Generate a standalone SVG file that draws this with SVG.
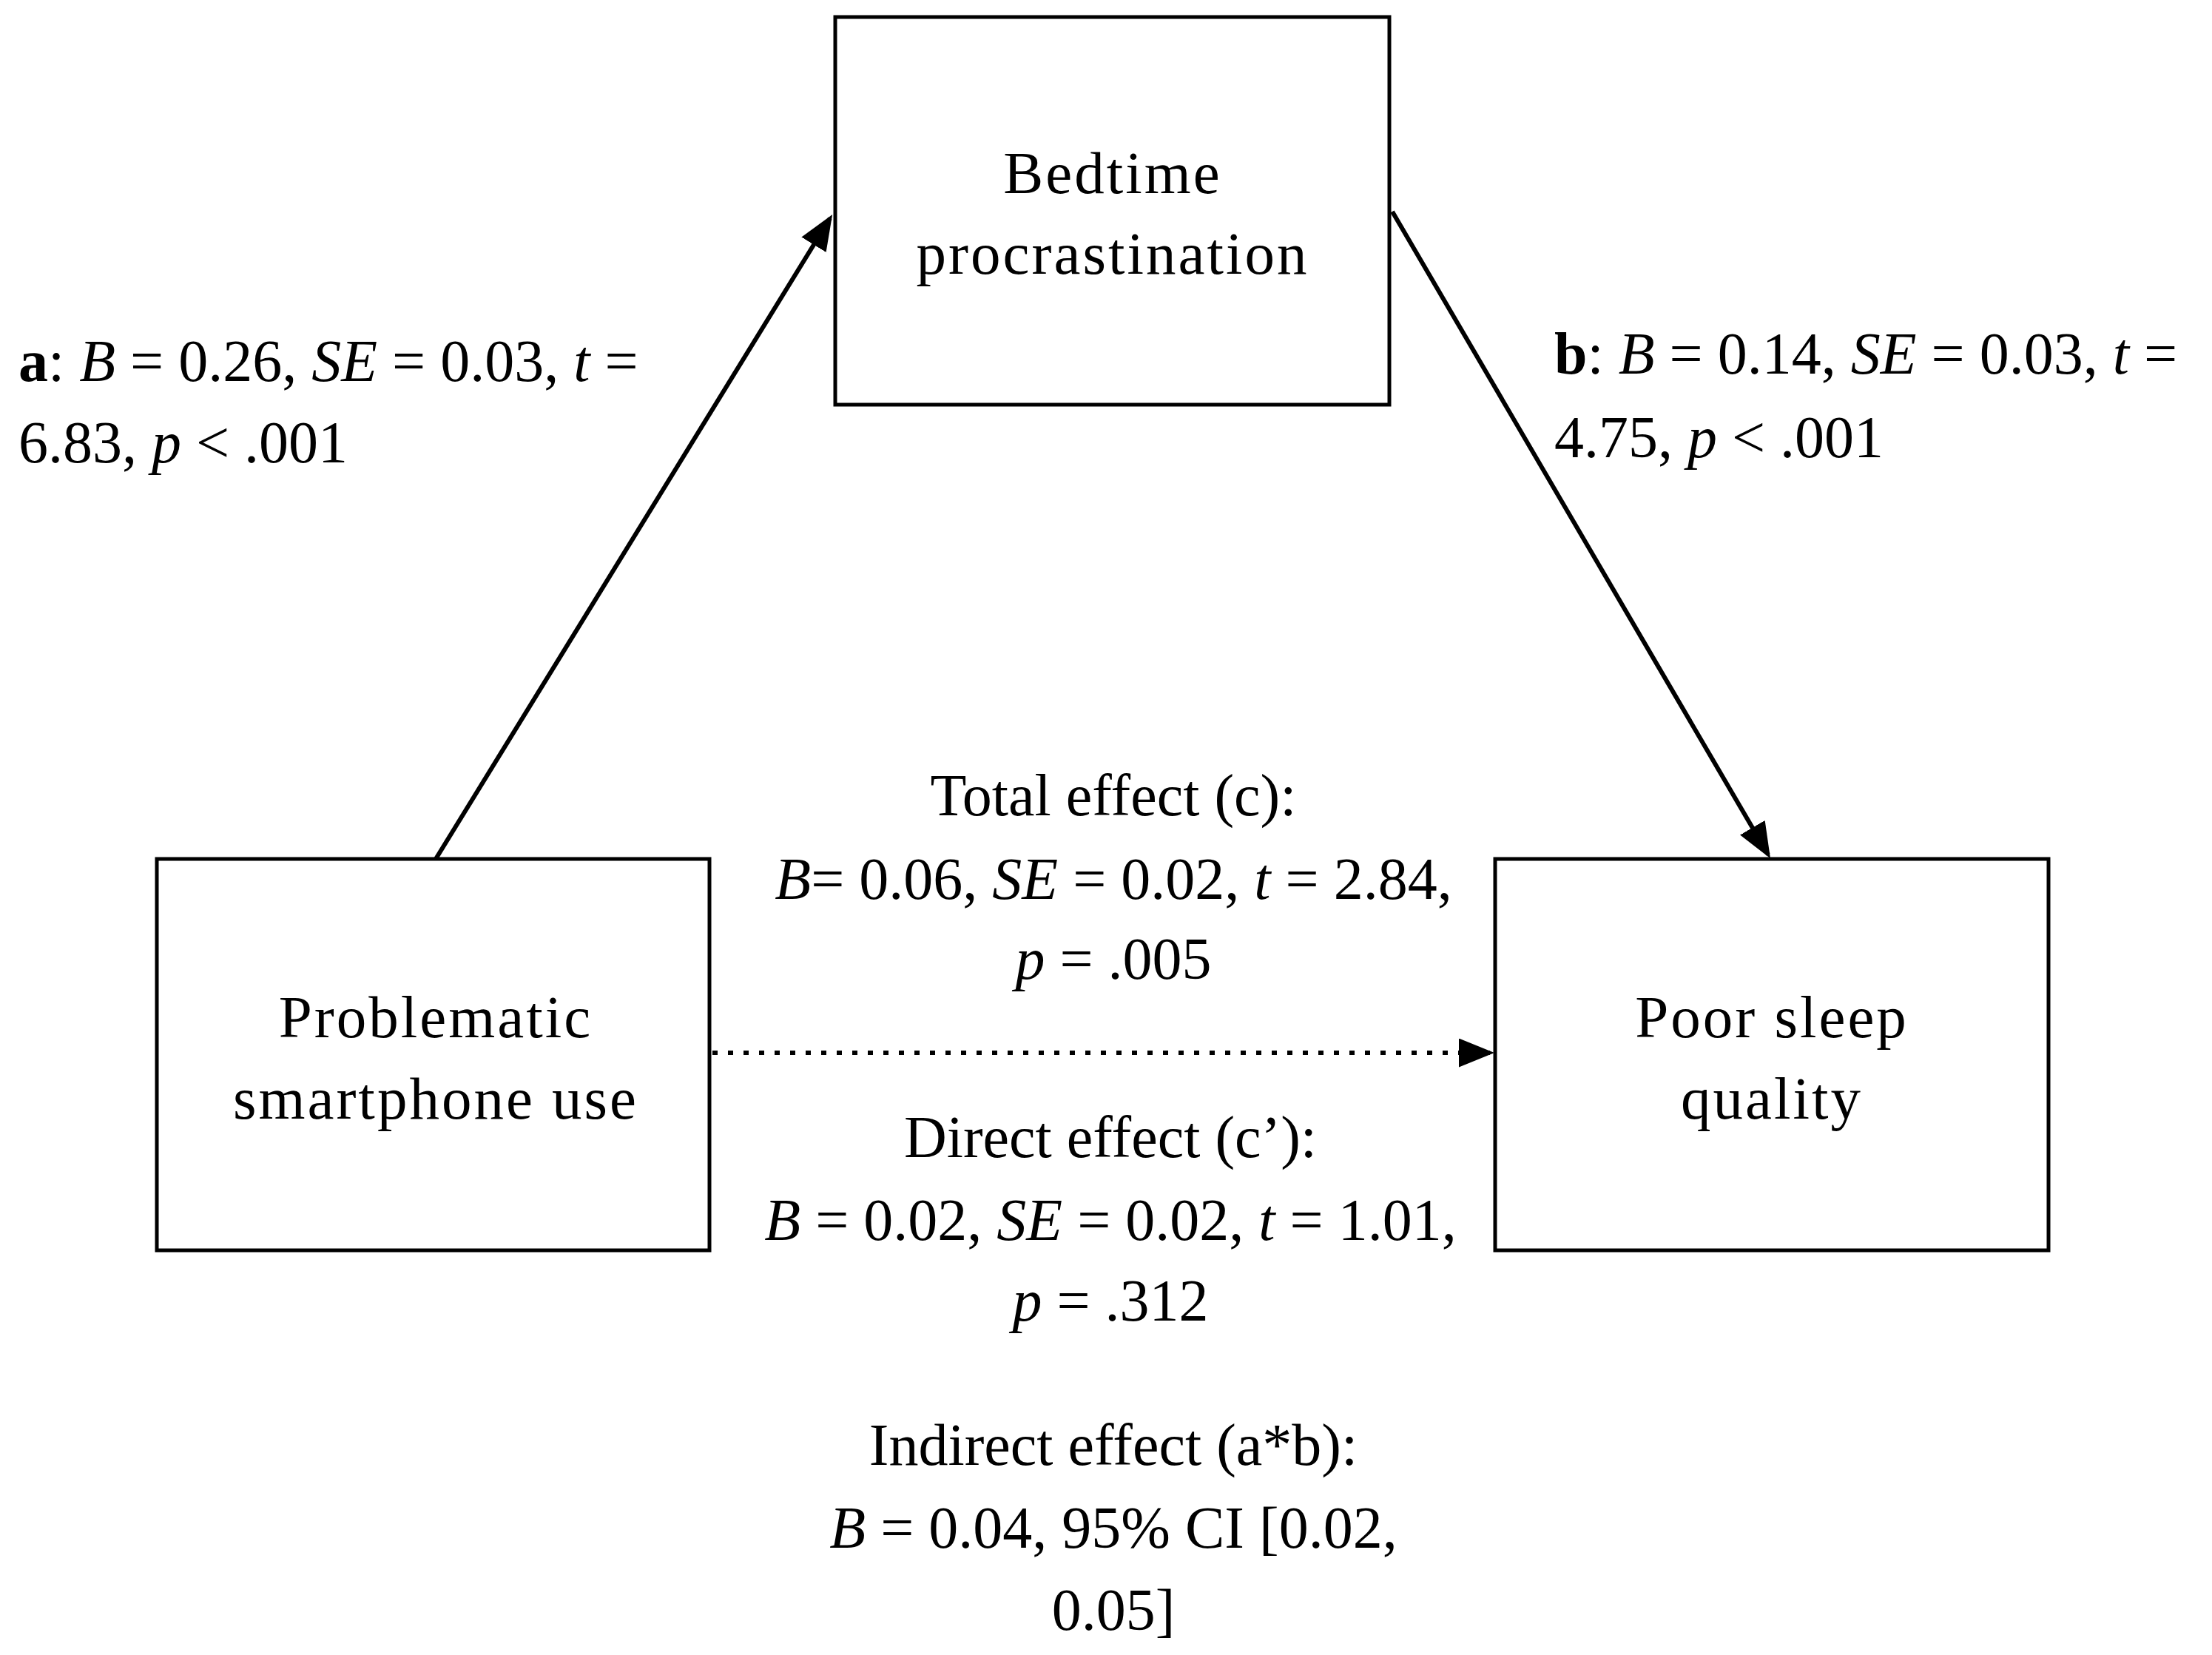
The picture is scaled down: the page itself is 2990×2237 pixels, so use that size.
<svg xmlns="http://www.w3.org/2000/svg" width="2990" height="2237" viewBox="0 0 2990 2237">
<style>
.box{fill:#fff;stroke:#000;stroke-width:5}
text{font-family:"Liberation Serif","DejaVu Serif",serif;font-size:80px;fill:#000}
.n{letter-spacing:3px;font-size:81px}
.c{text-anchor:middle}
.ln{stroke:#000;stroke-width:6;fill:none}
</style>
<defs><marker id="ah" markerWidth="8" markerHeight="6.5" refX="7" refY="3.25" orient="auto" markerUnits="strokeWidth"><path d="M0,0L8,3.25L0,6.5z" fill="#000"/></marker></defs>
<rect width="2990" height="2237" fill="#fff"/>
<g id="connectors">
<line class="ln" x1="589" y1="1161" x2="1122" y2="295" marker-end="url(#ah)"/>
<line class="ln" x1="1882" y1="286" x2="2390" y2="1155" marker-end="url(#ah)"/>
<line class="ln" x1="963" y1="1423" x2="2014" y2="1423" stroke-dasharray="7 14" marker-end="url(#ah)"/>
</g>
<g id="bedtime"><rect class="box" x="1129" y="23" width="749" height="524"/>
<text class="c n" x="1504" y="261">Bedtime</text><text class="c n" x="1504" y="370">procrastination</text></g>
<g id="problematic"><rect class="box" x="212" y="1161" width="747" height="529"/>
<text class="c n" x="589" y="1402">Problematic</text><text class="c n" x="589" y="1512">smartphone use</text></g>
<g id="poor"><rect class="box" x="2021" y="1161" width="748" height="529"/>
<text class="c n" x="2395" y="1402">Poor sleep</text><text class="c n" x="2395" y="1512">quality</text></g>
<g id="labels">
<text x="25" y="515"><tspan font-weight="bold">a</tspan>: <tspan font-style="italic">B</tspan> = 0.26, <tspan font-style="italic">SE</tspan> = 0.03, <tspan font-style="italic">t</tspan> =</text>
<text x="25" y="625">6.83, <tspan font-style="italic">p</tspan> &lt; .001</text>
<text x="2101" y="505"><tspan font-weight="bold">b</tspan>: <tspan font-style="italic">B</tspan> = 0.14, <tspan font-style="italic">SE</tspan> = 0.03, <tspan font-style="italic">t</tspan> =</text>
<text x="2101" y="618">4.75, <tspan font-style="italic">p</tspan> &lt; .001</text>
<text class="c" x="1505" y="1102">Total effect (c):</text>
<text class="c" x="1505" y="1215"><tspan font-style="italic">B</tspan>= 0.06, <tspan font-style="italic">SE</tspan> = 0.02, <tspan font-style="italic">t</tspan> = 2.84,</text>
<text class="c" x="1505" y="1323"><tspan font-style="italic">p</tspan> = .005</text>
<text class="c" x="1501" y="1564">Direct effect (c’):</text>
<text class="c" x="1501" y="1676"><tspan font-style="italic">B</tspan> = 0.02, <tspan font-style="italic">SE</tspan> = 0.02, <tspan font-style="italic">t</tspan> = 1.01,</text>
<text class="c" x="1501" y="1785"><tspan font-style="italic">p</tspan> = .312</text>
<text class="c" x="1505" y="1980">Indirect effect (a*b):</text>
<text class="c" x="1505" y="2092"><tspan font-style="italic">B</tspan> = 0.04, 95% CI [0.02,</text>
<text class="c" x="1505" y="2203">0.05]</text>
</g>
</svg>
